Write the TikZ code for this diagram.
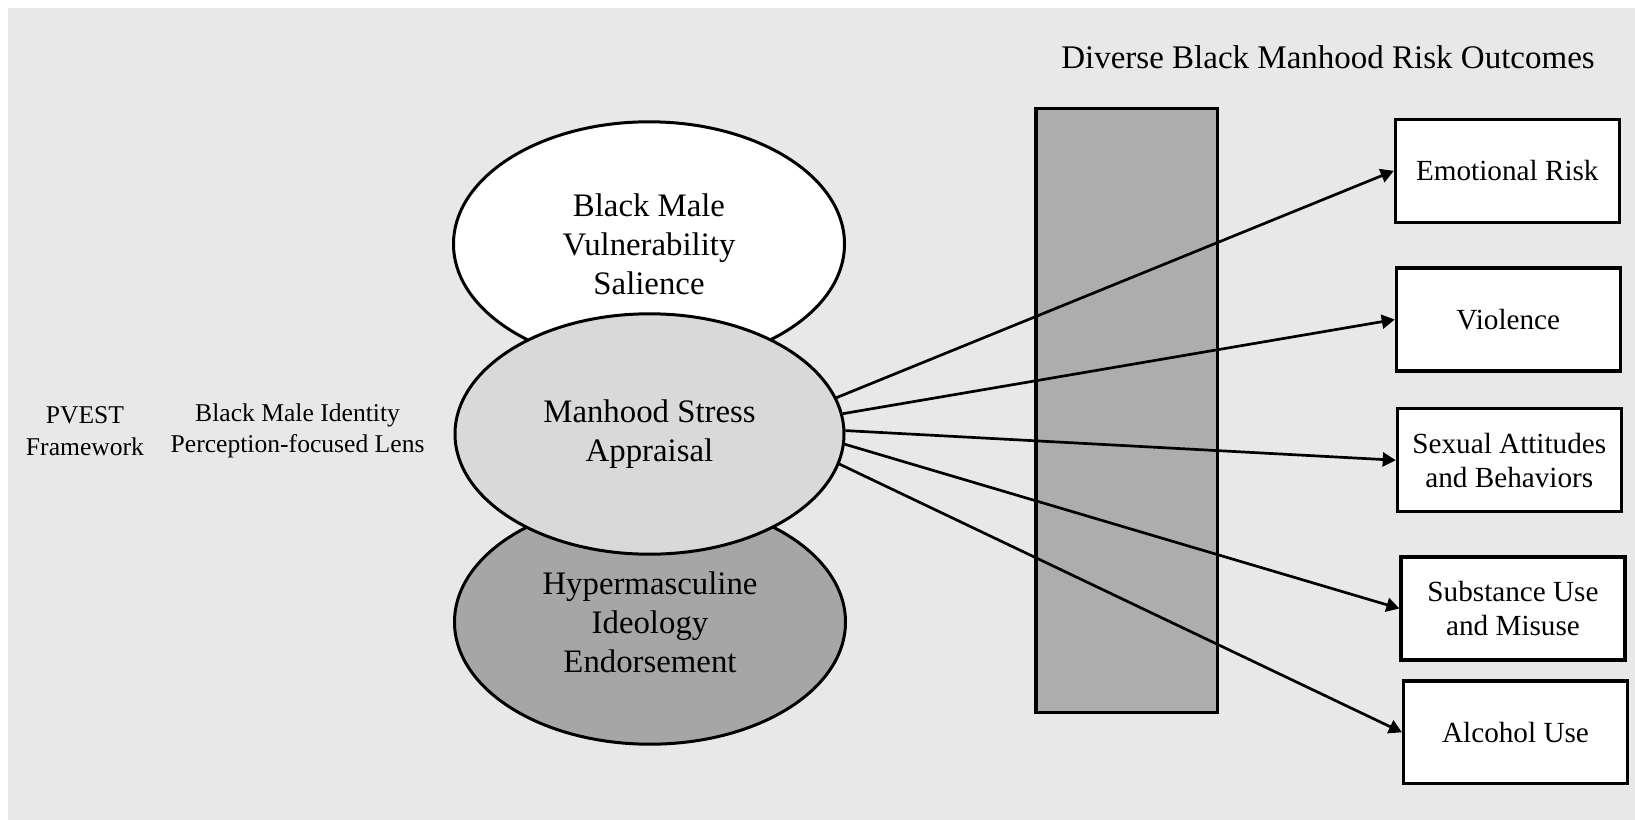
\documentclass[tikz,border=0pt]{standalone}
\usepackage{fontspec}
\setmainfont{Liberation Serif}
\usetikzlibrary{arrows.meta,shapes.geometric}
\definecolor{bgc}{HTML}{E8E8E8}
\definecolor{midc}{HTML}{D9D9D9}
\definecolor{lowc}{HTML}{A6A6A6}
\definecolor{barc}{HTML}{ADADAD}
\begin{document}
\begin{tikzpicture}[x=0.5pt,y=-0.5pt,
  ell/.style={ellipse, draw, line width=1.5pt, inner sep=0pt, align=center,
    font=\fontsize{16.4}{19.5}\selectfont},
  outbox/.style={rectangle, draw, line width=1.65pt, fill=white,
    minimum width=111.9pt, minimum height=51.4pt, inner sep=0pt, align=center,
    font=\fontsize{14.6}{17}\selectfont},
  lbl/.style={align=center, inner sep=0pt, font=\fontsize{12.8}{15.75}\selectfont},
  conn/.style={-{Triangle[length=6.5pt,width=7pt]}, line width=1.35pt}]
\useasboundingbox (0,0) rectangle (1635,820);
\fill[bgc] (8,8) rectangle (1635,820);

% ellipses
\node[ell, fill=white, minimum width=195.5pt, minimum height=122.2pt] (vul) at (649,244)
  {Black Male\\Vulnerability\\Salience};
\node[ell, fill=lowc, minimum width=195.5pt, minimum height=122.2pt] (hyp) at (650,622)
  {Hypermasculine\\Ideology\\Endorsement};
\node[ell, fill=midc, minimum width=194.5pt, minimum height=120.2pt] (mid) at (649.5,434)
  {Manhood Stress\\Appraisal};

% left labels
\node[lbl] (pvest) at (85,431) {PVEST\\Framework};
\node[lbl] (lens) at (297.6,431) {Black Male Identity\\Perception-focused Lens};

% title
\node[inner sep=0pt, font=\fontsize{16.5}{19.5}\selectfont] (title) at (1328,57.5)
  {Diverse Black Manhood Risk Outcomes};

% gray bar
\node[draw, line width=1.6pt, fill=barc, minimum width=90.6pt, minimum height=301.8pt,
  inner sep=0pt] (bar) at (1126.5,410.6) {};

% outcome boxes
\node[outbox] (emo) at (1507.3,170.8) {Emotional Risk};
\node[outbox] (vio) at (1508.3,319.5) {Violence};
\node[outbox] (sex) at (1509.3,460.2) {Sexual Attitudes\\and Behaviors};
\node[outbox] (sub) at (1513,608.5) {Substance Use\\and Misuse};
\node[outbox] (alc) at (1515.5,732.3) {Alcohol Use};

% connectors
\draw[conn] (mid.11.4) -- (emo.west);
\draw[conn] (mid.6.5) -- (vio.west);
\draw[conn] (mid.1.8) -- (sex.west);
\draw[conn] (mid.-3.7) -- (sub.west);
\draw[conn] (mid.-9.9) -- (alc.west);
\end{tikzpicture}
\end{document}
